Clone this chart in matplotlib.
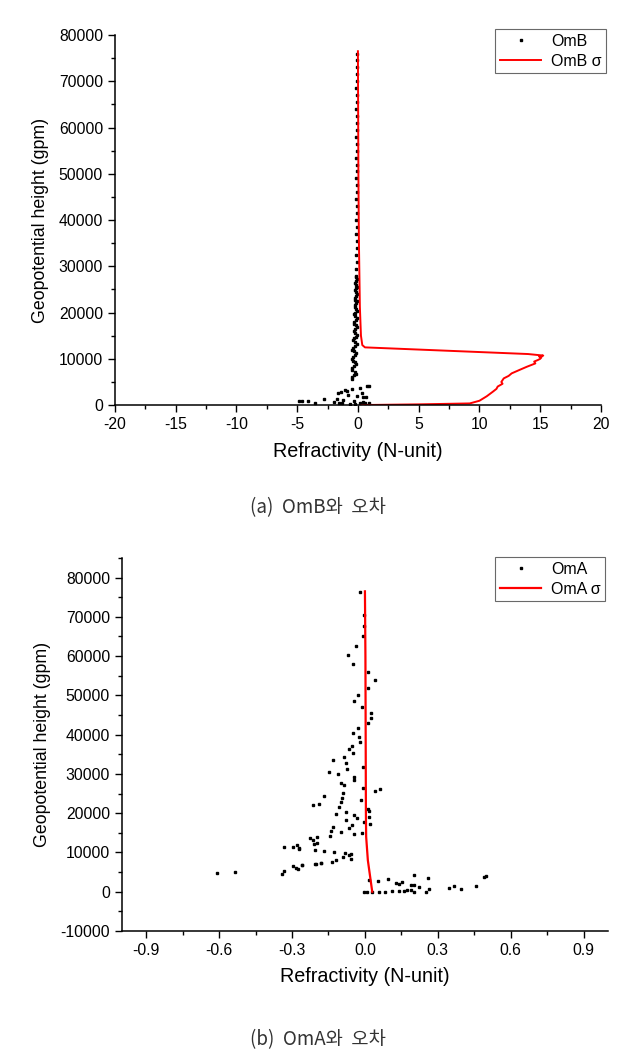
import numpy as np
import matplotlib.pyplot as plt
from matplotlib.ticker import MultipleLocator

plt.rcParams['font.family'] = ['Liberation Sans', 'DejaVu Sans']
plt.rcParams['axes.unicode_minus'] = False

# ---- panel (a): OmB and sigma ----
omb_h = [5600, 6000, 6400, 6800, 7200, 7600, 8000, 8400, 8800, 9200,
         9600, 10000, 10400, 10800, 11200, 11600, 12000, 12400, 12800, 13200,
         13600, 14000, 14400, 14800, 15200, 15600, 16000, 16400, 16800, 17200,
         17600, 18000, 18400, 18800, 19200, 19600, 20000, 20400, 20800, 21200,
         21600, 22000, 22400, 22800, 23200, 23600, 24000, 24400, 24800, 25200,
         25600, 26000, 26400, 26800, 27200, 27600, 28000,
         29500, 31000, 32500, 34000, 35500, 37000, 38500, 40000, 41500, 43000,
         44500, 46000, 47500, 49000, 50500, 52000, 53500, 55000, 56500, 58000,
         59500, 61000, 62500, 64000, 65500, 67000, 68500, 70000, 71500, 73000,
         74500, 76000,
         865, 865, 930, 500, 1230, 2660, 2880, 3240, 3530, 2160,
         1950, 3750, 4110, 4110, 1800, 1660, 360, 360, 220, 360,
         360, 360, 1400, 700, 800, 2600, 1000, 250, 600, 3000]
omb_x = [-0.50, -0.45, -0.30, -0.15, -0.25, -0.45, -0.50, -0.35, -0.15, -0.20,
         -0.40, -0.50, -0.40, -0.20, -0.15, -0.35, -0.50, -0.40, -0.20, -0.10,
         -0.25, -0.40, -0.35, -0.15, -0.10, -0.25, -0.35, -0.25, -0.10, -0.15,
         -0.30, -0.30, -0.15, -0.10, -0.25, -0.30, -0.20, -0.10, -0.15, -0.28,
         -0.25, -0.12, -0.10, -0.22, -0.25, -0.15, -0.08, -0.15, -0.22, -0.18,
         -0.08, -0.12, -0.20, -0.15, -0.08, -0.12, -0.18,
         -0.12, -0.08, -0.15, -0.10, -0.06, -0.12, -0.10, -0.14, -0.08, -0.10,
         -0.12, -0.06, -0.10, -0.12, -0.08, -0.10, -0.14, -0.08, -0.10, -0.12,
         -0.06, -0.10, -0.08, -0.12, -0.10, -0.08, -0.12, -0.06, -0.10, -0.08,
         -0.10, -0.08,
         -4.83, -4.63, -4.08, -3.54, -2.80, -1.62, -1.42, -1.07, -0.52, -0.80,
         -0.11, 0.16, 0.71, 0.93, 0.44, 0.63, -1.54, -1.32, -0.66, 0.16,
         0.58, 0.93, -1.70, -2.00, -0.30, 0.30, -1.20, -0.20, 0.40, -0.90]

omb_sig_h = [0, 150, 350, 930, 1900, 2880, 3500, 4000, 4600, 5000, 5770, 6300,
             6850, 7600, 8280, 9000, 9400, 9730, 10000, 10300, 10500, 10700,
             11030, 12470, 12970, 15000, 21250, 35700, 50000, 76500]
omb_sig_x = [0.3, 5.0, 9.2, 10.0, 10.6, 11.1, 11.4, 11.5, 11.9, 11.8, 12.0, 12.4,
             12.65, 13.3, 13.9, 14.6, 14.5, 14.8, 15.0, 15.1, 14.9, 15.25,
             14.0, 0.58, 0.36, 0.25, 0.16, 0.08, 0.04, 0.0]

# ---- panel (b): OmA and sigma ----
oma_x = [-0.019, -0.003, -0.003, -0.006, -0.037, -0.069, -0.051, 0.011, 0.042, 0.011,
         -0.030, -0.047, -0.012, 0.027, 0.027, 0.011, -0.030, -0.049, -0.023, -0.021,
         -0.054, -0.065, -0.051, -0.088, -0.133, -0.078, -0.072, -0.147, -0.109, -0.044,
         -0.047, -0.007, -0.098, -0.088, -0.006, 0.042, 0.063, -0.170, -0.092, -0.096,
         -0.099, -0.212, -0.191, -0.106, -0.017, 0.011, 0.015, -0.117, -0.078, -0.044,
         -0.076, -0.032, 0.018, -0.003, 0.022, -0.054, -0.067, -0.133, -0.139, -0.099,
         -0.047, -0.014, -0.144, -0.225, -0.213, -0.199, -0.210, -0.198, -0.270, -0.205,
         -0.170, -0.126, -0.082, -0.067, -0.058, -0.092, -0.058, -0.117, -0.137, -0.181,
         -0.205, -0.259,
         -0.607, -0.535, -0.342, -0.335, -0.295, -0.284, -0.274, -0.259, -0.335, -0.294,
         -0.281, -0.270, -0.202, -0.181,
         -0.003, 0.007, 0.029, 0.056, 0.084, 0.111, 0.141, 0.162, 0.189, 0.203,
         0.251, 0.265, 0.344, 0.368, 0.395, 0.457, 0.491, 0.500, 0.015, 0.052,
         0.093, 0.128, 0.141, 0.152, 0.189, 0.203, 0.203, 0.258, 0.221, 0.175]
oma_h = [76270, 70600, 67800, 65100, 62650, 60270, 57980, 55870, 53840, 51900,
         50200, 48680, 47060, 45630, 44360, 42920, 41820, 40300, 39290, 38100,
         37160, 36240, 35230, 34370, 33520, 32680, 31150, 30550, 29890, 29130,
         28440, 31820, 27760, 27180, 26490, 25650, 26080, 24460, 25060, 23870,
         22780, 22010, 22430, 21590, 23360, 20980, 20630, 19800, 20230, 19460,
         18280, 18710, 19120, 17690, 17260, 17010, 16330, 16580, 15570, 15320,
         14650, 15050, 14300, 13790, 13200, 14040, 12190, 12520, 11100, 10670,
         10410, 10080, 9820, 9470, 9650, 8960, 8380, 7950, 7540, 7290,
         7030, 6860,
         4740, 5080, 4490, 5330, 6430, 6010, 5760, 6770, 11500, 11350,
         11930, 10920, 7110, 7290,
         -80, -80, -80, -80, -80, 250, 80, 80, 330, 0,
         0, 760, 930, 1350, 680, 1350, 3730, 4060, 2870, 2620,
         3220, 2210, 2030, 2370, 1780, 1610, 4320, 3470, 1100, 510]

oma_sig_h = [76500, 60000, 40000, 20000, 14000, 8000, 0]
oma_sig_x = [0.0, 0.002, 0.003, 0.004, 0.005, 0.012, 0.03]


def style_axis(ax):
    for side in ['top', 'right']:
        ax.spines[side].set_visible(False)
    for side in ['left', 'bottom']:
        ax.spines[side].set_linewidth(1.1)
    ax.tick_params(which='major', direction='out', length=5, width=1, labelsize=11.3)
    ax.tick_params(which='minor', direction='out', length=3, width=1)
    ax.set_xlabel('Refractivity (N-unit)', fontsize=14.2, labelpad=7)
    ax.set_ylabel('Geopotential height (gpm)', fontsize=12.8, labelpad=7)


def add_legend(ax, top):
    leg = ax.legend(loc='upper left', bbox_to_anchor=(0.776, top), bbox_transform=fig.transFigure,
                    fontsize=11.5, frameon=True, fancybox=False, markerscale=0.9,
                    borderaxespad=0, handlelength=2.6, borderpad=0.3, labelspacing=0.3,
                    handletextpad=0.6)
    leg.get_frame().set_edgecolor('#444444')
    leg.get_frame().set_linewidth(0.8)
    return leg


fig = plt.figure(figsize=(6.38, 10.62), dpi=100)

ax1 = fig.add_axes([0.180, 0.6186, 0.762, 0.3484])
ax1.plot(omb_x, omb_h, 's', color='black', markersize=2.0, label='OmB')
ax1.plot(omb_sig_x, omb_sig_h, '-', color='red', linewidth=1.4, label='OmB σ')
ax1.set_xlim(-20, 20)
ax1.set_ylim(0, 80000)
ax1.xaxis.set_major_locator(MultipleLocator(5))
ax1.xaxis.set_minor_locator(MultipleLocator(2.5))
ax1.yaxis.set_major_locator(MultipleLocator(10000))
ax1.yaxis.set_minor_locator(MultipleLocator(5000))
style_axis(ax1)
add_legend(ax1, 0.9727)

ax2 = fig.add_axes([0.191, 0.1234, 0.762, 0.3512])
ax2.plot(oma_x, oma_h, 's', color='black', markersize=2.0, label='OmA')
ax2.plot(oma_sig_x, oma_sig_h, '-', color='red', linewidth=1.6, label='OmA σ')
ax2.set_xlim(-1.0, 1.0)
ax2.set_ylim(-10000, 85000)
ax2.set_xticks([-0.9, -0.6, -0.3, 0.0, 0.3, 0.6, 0.9])
ax2.xaxis.set_minor_locator(MultipleLocator(0.15))
ax2.set_yticks(np.arange(-10000, 80001, 10000))
ax2.yaxis.set_minor_locator(MultipleLocator(5000))
style_axis(ax2)
add_legend(ax2, 0.4755)

cap_font = ['Noto Sans CJK KR', 'DejaVu Sans']
fig.text(0.498, 0.5217, '(a)  OmB와  오차', ha='center', va='center',
         fontsize=13.5, color='#333333', family=cap_font)
fig.text(0.498, 0.0207, '(b)  OmA와  오차', ha='center', va='center',
         fontsize=13.5, color='#333333', family=cap_font)

fig.savefig('out.png', dpi=100)
